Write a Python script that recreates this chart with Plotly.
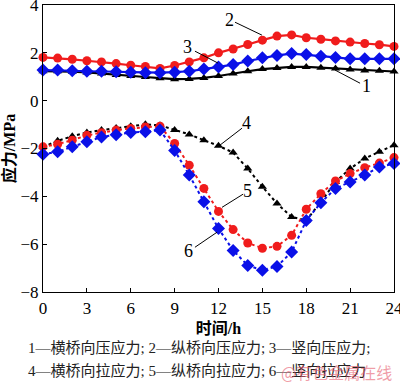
import plotly.graph_objects as go

hours = list(range(25))

s1_transverse_comp = [1.23, 1.23, 1.21, 1.18, 1.14, 1.07, 1.03, 0.99, 0.94, 0.90, 0.91, 0.95, 1.03,
                      1.14, 1.23, 1.32, 1.37, 1.41, 1.41, 1.38, 1.34, 1.30, 1.26, 1.25, 1.22]
s2_longit_comp = [1.81, 1.78, 1.73, 1.67, 1.62, 1.55, 1.48, 1.43, 1.35, 1.47, 1.62, 1.79, 2.00,
                  2.16, 2.35, 2.53, 2.70, 2.75, 2.63, 2.57, 2.50, 2.45, 2.39, 2.34, 2.27]
s3_vert_comp = [1.28, 1.28, 1.25, 1.23, 1.23, 1.21, 1.19, 1.17, 1.17, 1.19, 1.23, 1.32, 1.41,
                1.51, 1.66, 1.79, 1.89, 1.97, 1.93, 1.86, 1.81, 1.75, 1.75, 1.75, 1.75]
s4_transverse_tens = [-1.93, -1.68, -1.49, -1.33, -1.23, -1.14, -1.07, -0.99, -1.03, -1.23, -1.41, -1.65, -1.89,
                      -2.17, -2.84, -3.60, -4.30, -4.86, -5.01, -4.23, -3.40, -2.84, -2.42, -2.14, -1.86]
s5_longit_tens = [-1.93, -1.82, -1.65, -1.45, -1.34, -1.23, -1.16, -1.10, -1.07, -1.79, -2.70, -3.67, -4.63,
                  -5.39, -5.95, -6.17, -6.09, -5.63, -4.54, -3.89, -3.36, -3.05, -2.80, -2.61, -2.38]
s6_vert_tens = [-2.24, -2.14, -1.93, -1.72, -1.52, -1.42, -1.33, -1.30, -1.23, -2.08, -3.11, -4.23, -5.35,
                -6.26, -6.89, -7.09, -6.93, -6.33, -5.01, -4.27, -3.67, -3.40, -3.11, -2.77, -2.63]

x_ticks = [0, 3, 6, 9, 12, 15, 18, 21, 24]
y_ticks = [-8, -6, -4, -2, 0, 2, 4]

# curve labels: text, label position, leader line start/end
label_texts = ["1", "2", "3", "4", "5", "6"]
label_x = [22.15, 12.72, 9.85, 13.88, 13.95, 9.98]
label_y = [0.61, 3.37, 2.24, -0.94, -3.79, -6.30]
leader_x0 = [21.68, 13.13, 10.39, 13.61, 13.68, 10.39]
leader_y0 = [0.73, 3.28, 2.07, -1.15, -3.91, -6.13]
leader_x1 = [19.97, 14.97, 11.97, 12.10, 12.24, 11.90]
leader_y1 = [1.28, 2.74, 1.57, -1.86, -4.46, -5.50]

caption1 = "1—横桥向压应力; 2—纵桥向压应力; 3—竖向压应力;"
caption2 = "4—横桥向拉应力; 5—纵桥向拉应力; 6—竖向拉应力"
watermark = "@有色金属在线"

SERIF = "Liberation Serif, Times New Roman, Noto Sans CJK SC"
RED = "#f01c1c"
BLUE = "#0a10e8"
BLACK = "#000000"

W, H = 400, 387
ML, MR, MT, MB = 43, 6, 5, 95
pw, ph = W - ML - MR, H - MT - MB


def px_to_paper(px, py):
    return (px - ML) / pw, (H - MB - py) / ph


fig = go.Figure()

series = [
    (s1_transverse_comp, BLACK, "solid", "triangle-up", 8),
    (s2_longit_comp, RED, "solid", "circle", 9),
    (s3_vert_comp, BLUE, "solid", "diamond", 10),
    (s4_transverse_tens, BLACK, "dot", "triangle-up", 8),
    (s5_longit_tens, RED, "dot", "circle", 9),
    (s6_vert_tens, BLUE, "dot", "diamond", 10),
]
for vals, col, dash, sym, size in series:
    fig.add_trace(go.Scatter(
        x=hours, y=vals, mode="lines+markers",
        line=dict(color=col, width=2.2 if dash == "solid" else 2, dash=dash),
        marker=dict(symbol=sym, size=size, color=col),
        showlegend=False, cliponaxis=False,
    ))

for i, t in enumerate(label_texts):
    fig.add_shape(type="line", xref="x", yref="y",
                  x0=leader_x0[i], y0=leader_y0[i], x1=leader_x1[i], y1=leader_y1[i],
                  line=dict(color="black", width=1))
    fig.add_annotation(x=label_x[i], y=label_y[i], xref="x", yref="y", text=t,
                       showarrow=False, font=dict(family=SERIF, size=18, color="black"))

cx, cy = px_to_paper(26, 347)
fig.add_annotation(x=cx, y=cy, xref="paper", yref="paper", text=caption1, showarrow=False,
                   xanchor="left", yanchor="middle", font=dict(family=SERIF, size=15, color="#222"))
cx, cy = px_to_paper(26, 370)
fig.add_annotation(x=cx, y=cy, xref="paper", yref="paper", text=caption2, showarrow=False,
                   xanchor="left", yanchor="middle", font=dict(family=SERIF, size=15, color="#222"))
cx, cy = px_to_paper(394, 372)
fig.add_annotation(x=cx, y=cy, xref="paper", yref="paper", text=watermark, showarrow=False,
                   xanchor="right", yanchor="middle",
                   font=dict(family="Noto Sans CJK SC", size=16, color="rgba(230,90,110,0.6)"))

fig.update_layout(
    width=W, height=H,
    margin=dict(l=ML, r=MR, t=MT, b=MB, autoexpand=False),
    paper_bgcolor="white", plot_bgcolor="white",
    font=dict(family=SERIF, size=17, color="black"),
)
fig.update_xaxes(
    range=[0, 24], tickvals=x_ticks, ticktext=[str(v) for v in x_ticks],
    ticks="inside", ticklen=4, tickwidth=1, tickcolor="black",
    showline=True, linecolor="black", linewidth=1.2, mirror=True,
    showgrid=False, zeroline=False, automargin=False, ticklabeloverflow="allow",
    tickfont=dict(family=SERIF, size=17),
    title=dict(text="<b>时间/h</b>", font=dict(family=SERIF, size=16), standoff=6),
)
fig.update_yaxes(
    range=[-8, 4], tickvals=y_ticks, ticktext=[("\u2212" + str(-v)) if v < 0 else str(v) for v in y_ticks],
    ticks="inside", ticklen=4, tickwidth=1, tickcolor="black",
    showline=True, linecolor="black", linewidth=1.2, mirror=True,
    showgrid=False, zeroline=False, automargin=False, ticklabeloverflow="allow",
    tickfont=dict(family=SERIF, size=17),
    title=dict(text="<b>应力/MPa</b>", font=dict(family=SERIF, size=16), standoff=2),
)

fig.write_html("out.html", config={"displayModeBar": False},
               post_script="document.body.style.margin='0px';document.body.style.overflow='hidden';")
